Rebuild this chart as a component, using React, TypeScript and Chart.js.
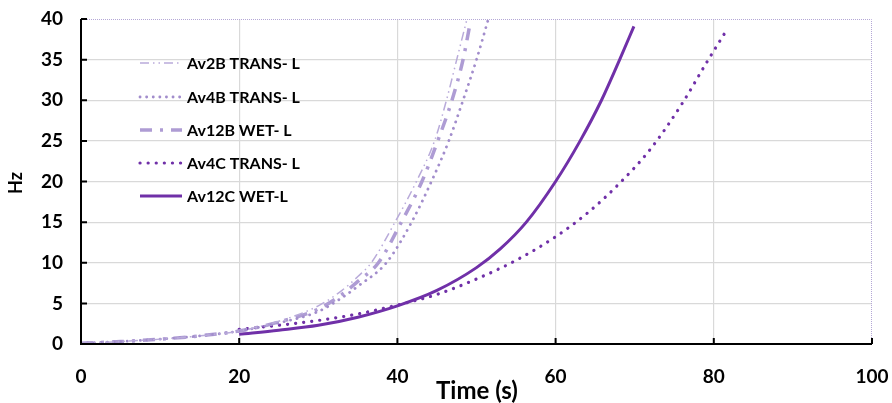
import React, { useEffect, useRef } from "react";
import { Chart, registerables } from "chart.js";

Chart.register(...registerables);

// ---- Data ----
const av2bTime = [0, 5, 10, 15, 20, 25, 30, 33, 35, 36.7, 39.7, 42.4, 44.7, 46.2, 47.5, 48.8];
const av2bHz = [0.1, 0.3, 0.6, 1.0, 1.6, 2.8, 4.7, 6.6, 8.3, 10, 15, 20, 25, 30, 35, 40];

const av4bTime = [0, 5, 10, 15, 20, 25, 30, 33, 35, 38.6, 41.8, 44.3, 46.5, 48.3, 50.0, 51.5];
const av4bHz = [0.1, 0.3, 0.6, 1.0, 1.6, 2.6, 4.0, 5.7, 7.1, 10, 15, 20, 25, 30, 35, 40];

const av12bTime = [0, 5, 10, 15, 20, 25, 30, 33, 35, 37.6, 40.5, 43.1, 45.1, 46.9, 48.3, 49.2];
const av12bHz = [0.1, 0.3, 0.6, 1.0, 1.6, 2.7, 4.3, 6.1, 7.7, 10, 15, 20, 25, 30, 35, 39.5];

const av4cTime = [20, 25, 30, 35, 40, 45, 50, 55, 60, 64, 68, 72, 76, 79, 81.6];
const av4cHz = [1.8, 2.3, 2.9, 3.7, 4.8, 6.1, 8.0, 10.3, 13.2, 16.1, 19.7, 24.0, 29.6, 34.5, 38.6];

const av12cTime = [20, 25, 30, 35, 40, 45, 50, 53, 56.3, 60, 63.1, 65.8, 68.1, 69.9];
const av12cHz = [1.2, 1.7, 2.3, 3.3, 4.7, 6.6, 9.4, 11.7, 15, 20, 25, 30, 35, 39.1];

const seriesNames = ["Av2B TRANS- L", "Av4B TRANS- L", "Av12B WET- L", "Av4C TRANS- L", "Av12C WET-L"];
const xTicks = [0, 20, 40, 60, 80, 100];
const yTicks = [0, 5, 10, 15, 20, 25, 30, 35, 40];
const xTitle = "Time (s)";
const yTitle = "Hz";

const pts = (xs: number[], ys: number[]) => xs.map((x, i) => ({ x, y: ys[i] }));

const FONT = "Lato, 'Open Sans', sans-serif";

const decorPlugin = {
  id: "decor",
  afterDraw(chart: any) {
    const { ctx, chartArea: a, scales } = chart;
    const xs = scales.x;
    const ys = scales.y;
    ctx.save();
    // dotted top/right border
    ctx.strokeStyle = "#B4A7D6";
    ctx.lineWidth = 1;
    ctx.setLineDash([1, 1]);
    ctx.beginPath();
    ctx.moveTo(a.left, a.top + 0.5);
    ctx.lineTo(a.right - 0.5, a.top + 0.5);
    ctx.lineTo(a.right - 0.5, a.bottom);
    ctx.stroke();
    ctx.setLineDash([]);
    // black axes
    ctx.strokeStyle = "#000";
    ctx.lineWidth = 2;
    ctx.beginPath();
    ctx.moveTo(a.left, a.top);
    ctx.lineTo(a.left, a.bottom);
    ctx.lineTo(a.right, a.bottom);
    ctx.stroke();
    // inner ticks
    ctx.beginPath();
    yTicks.forEach((v) => {
      const y = ys.getPixelForValue(v);
      ctx.moveTo(a.left, y);
      ctx.lineTo(a.left + 6, y);
    });
    xTicks.forEach((v) => {
      const x = xs.getPixelForValue(v);
      ctx.moveTo(x, a.bottom);
      ctx.lineTo(x, a.bottom - 6);
    });
    ctx.stroke();
    // axis titles
    ctx.fillStyle = "#000";
    ctx.font = `bold 24px ${FONT}`;
    ctx.textAlign = "center";
    ctx.textBaseline = "middle";
    ctx.fillText(xTitle, 477, 391);
    ctx.save();
    ctx.translate(16, 183);
    ctx.rotate(-Math.PI / 2);
    ctx.font = `bold 18px ${FONT}`;
    ctx.fillText(yTitle, 0, 0);
    ctx.restore();
    // legend
    const rows = [63, 97, 130, 163, 196];
    chart.data.datasets.forEach((ds: any, i: number) => {
      const y = rows[i];
      ctx.save();
      ctx.strokeStyle = ds.borderColor;
      ctx.lineWidth = ds.borderWidth;
      ctx.lineCap = ds.borderCapStyle || "butt";
      ctx.setLineDash(ds.borderDash || []);
      ctx.beginPath();
      ctx.moveTo(140, y);
      ctx.lineTo(182, y);
      ctx.stroke();
      ctx.restore();
      ctx.fillStyle = "#000";
      ctx.font = `bold 16px ${FONT}`;
      ctx.textAlign = "left";
      ctx.textBaseline = "middle";
      ctx.fillText(ds.label, 187, y + 1);
    });
    ctx.restore();
  },
};

export default function App() {
  const ref = useRef<HTMLCanvasElement>(null);
  useEffect(() => {
    document.body.style.margin = "0";
    const common = { pointRadius: 0, fill: false, cubicInterpolationMode: "monotone" as const, tension: 0.4 };
    const chart = new Chart(ref.current!, {
      type: "line",
      data: {
        datasets: [
          { ...common, label: seriesNames[0], data: pts(av2bTime, av2bHz), borderColor: "#B9ABDA", borderWidth: 1.5, borderDash: [9, 4, 1.5, 4, 1.5, 4], borderCapStyle: "butt" },
          { ...common, label: seriesNames[1], data: pts(av4bTime, av4bHz), borderColor: "#A28DCC", borderWidth: 2.8, borderDash: [0.1, 6.5], borderCapStyle: "round" },
          { ...common, label: seriesNames[2], data: pts(av12bTime, av12bHz), borderColor: "#AE9CD4", borderWidth: 3.5, borderDash: [12, 8, 3, 8], borderCapStyle: "butt" },
          { ...common, label: seriesNames[3], data: pts(av4cTime, av4cHz), borderColor: "#7030A8", borderWidth: 3.2, borderDash: [0.1, 8], borderCapStyle: "round" },
          { ...common, label: seriesNames[4], data: pts(av12cTime, av12cHz), borderColor: "#7030A8", borderWidth: 3, borderCapStyle: "butt" },
        ] as any,
      },
      options: {
        animation: false,
        responsive: false,
        maintainAspectRatio: false,
        layout: { padding: { left: 0, top: 19, right: 20, bottom: 0 } },
        plugins: { legend: { display: false }, tooltip: { enabled: false }, title: { display: false } },
        scales: {
          x: {
            type: "linear",
            min: 0,
            max: 100,
            afterFit: (s: any) => { s.height = 59; s.paddingLeft = 0; s.paddingRight = 0; },
            afterBuildTicks: (s: any) => { s.ticks = xTicks.map((v) => ({ value: v })); },
            ticks: { color: "#000", font: { family: FONT, size: 19, weight: "bold" }, padding: 21, maxRotation: 0 },
            grid: {
              drawTicks: false,
              color: (c: any) => (c.tick && (c.tick.value === 0 || c.tick.value === 100) ? "rgba(0,0,0,0)" : "#D9D9D9"),
              lineWidth: 1.2,
            },
            border: { display: false },
          },
          y: {
            type: "linear",
            min: 0,
            max: 40,
            afterFit: (s: any) => { s.width = 81; s.paddingTop = 0; s.paddingBottom = 0; },
            afterBuildTicks: (s: any) => { s.ticks = yTicks.map((v) => ({ value: v })); },
            ticks: { color: "#000", font: { family: FONT, size: 19, weight: "bold" }, padding: 18 },
            grid: {
              drawTicks: false,
              color: (c: any) => (c.tick && (c.tick.value === 0 || c.tick.value === 40) ? "rgba(0,0,0,0)" : "#D9D9D9"),
              lineWidth: 1.2,
            },
            border: { display: false },
          },
        },
      } as any,
      plugins: [decorPlugin],
    });
    return () => chart.destroy();
  }, []);
  return (
    <div style={{ position: "fixed", left: 0, top: 0, width: 892, height: 403, background: "#fff" }}>
      <canvas ref={ref} width={892} height={403} style={{ width: 892, height: 403 }} />
    </div>
  );
}
